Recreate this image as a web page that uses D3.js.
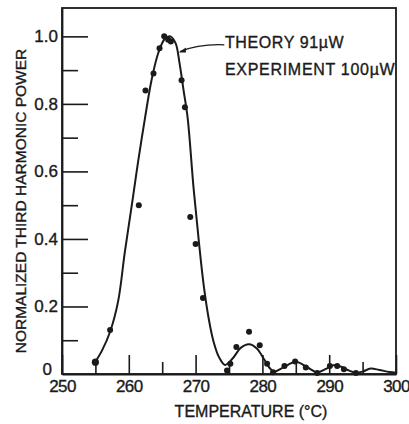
<!DOCTYPE html>
<html lang="en">
<head>
<meta charset="UTF-8">
<title>Third harmonic power vs temperature</title>
<script src="https://cdn.jsdelivr.net/npm/d3@7"></script>
<style>
  body { margin: 0; background: #fff; }
  svg { font-family: "Liberation Sans", Arial, sans-serif; }
  text { fill: #1a1a1a; stroke: #1a1a1a; stroke-width: 0.35; }
</style>
</head>
<body>
<script>
// theory curve
const theoryT = [254.8, 256.0, 257.2, 258.4, 259.4, 260.6, 261.4, 262.4, 263.4, 264.4, 265.4, 266.2, 267.0, 267.6, 268.2, 268.8, 269.7, 270.5, 271.2, 272.0, 272.7, 273.5, 274.4, 275.5, 276.8, 278.0, 279.2, 280.2, 281.0, 281.7, 283.0, 285.0, 286.7, 288.2, 289.5, 290.6, 291.7, 293.0, 294.0, 295.0, 296.2, 297.5, 299.0, 300.0]
const theoryP = [0.03, 0.07, 0.125, 0.215, 0.36, 0.52, 0.63, 0.755, 0.87, 0.95, 0.993, 1.0, 0.98, 0.92, 0.84, 0.76, 0.55, 0.39, 0.265, 0.16, 0.095, 0.05, 0.027, 0.045, 0.078, 0.088, 0.075, 0.045, 0.02, 0.007, 0.018, 0.036, 0.02, 0.005, 0.015, 0.026, 0.022, 0.01, 0.004, 0.007, 0.016, 0.012, 0.006, 0.004]

// experiment points
const expT = [255.0, 257.2, 261.5, 262.5, 263.7, 264.6, 265.3, 265.9, 266.3, 267.9, 268.4, 269.2, 270.0, 271.1, 274.7, 275.2, 276.1, 278.0, 279.6, 280.7, 281.6, 283.3, 284.9, 286.5, 288.2, 290.1, 291.2, 292.2, 294.0]
const expP = [0.035, 0.13, 0.50, 0.84, 0.89, 0.965, 1.0, 0.99, 0.985, 0.87, 0.79, 0.465, 0.385, 0.225, 0.01, 0.03, 0.08, 0.125, 0.085, 0.03, 0.005, 0.024, 0.037, 0.019, 0.003, 0.024, 0.024, 0.014, 0.003]

const xMajor = [250, 260, 270, 280, 290, 300]
const xMinor = [255, 265, 275, 285, 295]
const yMajor = [0, 0.2, 0.4, 0.6, 0.8, 1.0]
const yMinor = [0.1, 0.3, 0.5, 0.7, 0.9]

const width = 409, height = 424
const margin = {top: 8, right: 13, bottom: 50, left: 62}
const ink = '#1a1a1a'

const svg = d3.select('body').append('svg')
  .attr('width', width)
  .attr('height', height)

const x = d3.scaleLinear().domain([250, 300]).range([margin.left, width - margin.right])
const y = d3.scaleLinear().domain([0, 1.084]).range([height - margin.bottom, margin.top])

// frame
svg.append('rect')
  .attr('x', x(250)).attr('y', y(1.084))
  .attr('width', x(300) - x(250)).attr('height', y(0) - y(1.084))
  .attr('fill', 'none').attr('stroke', ink).attr('stroke-width', 1.8)

// x axis
const xAxis = svg.append('g')
  .attr('transform', `translate(0,${y(0)})`)
  .call(d3.axisBottom(x).tickValues(xMajor).tickSizeInner(-19).tickSizeOuter(0).tickPadding(6).tickFormat(d3.format('d')))
svg.append('g')
  .attr('transform', `translate(0,${y(0)})`)
  .call(d3.axisBottom(x).tickValues(xMinor).tickSizeInner(-12).tickSizeOuter(0).tickFormat(''))
  .call(g => g.select('.domain').remove())

// y axis
const yAxis = svg.append('g')
  .attr('transform', `translate(${x(250)},0)`)
  .call(d3.axisLeft(y).tickValues(yMajor).tickSizeInner(-26).tickSizeOuter(0).tickPadding(4)
    .tickFormat(d => d === 0 ? '0' : d3.format('.1f')(d)))
svg.append('g')
  .attr('transform', `translate(${x(250)},0)`)
  .call(d3.axisLeft(y).tickValues(yMinor).tickSizeInner(-16).tickSizeOuter(0).tickFormat(''))
  .call(g => g.select('.domain').remove())

svg.selectAll('.tick line').attr('stroke', ink).attr('stroke-width', 1.6)
svg.selectAll('.domain').attr('stroke', ink).attr('stroke-width', 1.8)
svg.selectAll('.tick text').attr('fill', ink).attr('font-size', 17).attr('font-family', '"Liberation Sans", Arial, sans-serif')
xAxis.selectAll('.tick text').attr('letter-spacing', -0.6)

// the zero label sits a bit left and up
yAxis.selectAll('.tick').filter(d => d === 0)
  .call(t => t.select('line').remove())
  .select('text').attr('x', -10).attr('dy', '0.05em')

// axis titles
svg.append('text')
  .attr('x', 251).attr('y', 417)
  .attr('text-anchor', 'middle')
  .attr('font-size', 16)
  .text('TEMPERATURE (°C)')

svg.append('text')
  .attr('transform', `translate(26,${(y(0) + y(1.084)) / 2 + 10}) rotate(-90)`)
  .attr('text-anchor', 'middle')
  .attr('font-size', 15.5)
  .text('NORMALIZED THIRD HARMONIC POWER')

// theory curve
const line = d3.line()
  .x((d, i) => x(theoryT[i]))
  .y(d => y(d))
  .curve(d3.curveCatmullRom.alpha(0.5))

svg.append('path')
  .datum(theoryP)
  .attr('d', line)
  .attr('fill', 'none')
  .attr('stroke', ink)
  .attr('stroke-width', 2)

// experiment dots
svg.selectAll('circle.exp')
  .data(expP)
  .enter()
  .append('circle')
  .attr('class', 'exp')
  .attr('cx', (d, i) => x(expT[i]))
  .attr('cy', d => y(d))
  .attr('r', (d, i) => i === 0 ? 3.6 : 3)
  .attr('fill', ink)

// annotation
const tipX = x(267.5), tipY = y(0.955)
const labX = x(274.3), labY = y(0.975)
svg.append('path')
  .attr('d', `M${labX},${labY} Q${labX - 25},${labY - 1} ${tipX + 1},${tipY}`)
  .attr('fill', 'none').attr('stroke', ink).attr('stroke-width', 1.2)
svg.append('path')
  .attr('d', `M${tipX},${tipY + 1} l7,-5 l0,5 z`)
  .attr('fill', ink)

svg.append('text')
  .attr('x', x(274.4)).attr('y', y(0.966))
  .attr('font-size', 16).attr('letter-spacing', 0.6)
  .text('THEORY 91\u00b5W')
svg.append('text')
  .attr('x', x(274.4)).attr('y', y(0.886))
  .attr('font-size', 16).attr('letter-spacing', 0.7)
  .text('EXPERIMENT 100\u00b5W')
</script>
</body>
</html>
